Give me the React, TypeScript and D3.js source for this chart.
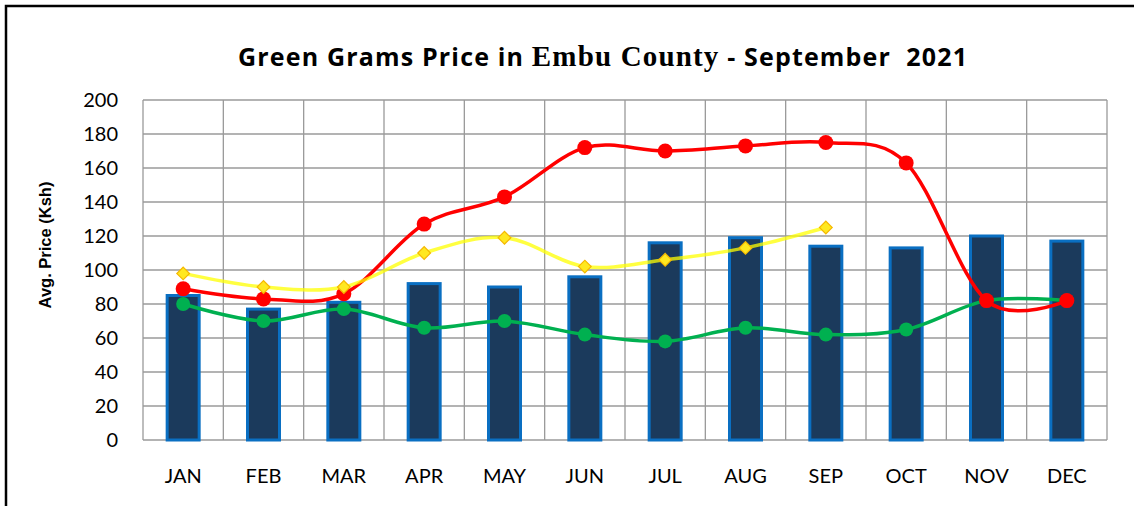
import * as d3 from "d3";
import { useRef, useEffect } from "react";

const months = ["JAN", "FEB", "MAR", "APR", "MAY", "JUN", "JUL", "AUG", "SEP", "OCT", "NOV", "DEC"];
const barValues = [85, 77, 81, 92, 90, 96, 116, 119, 114, 113, 120, 117];
const redValues = [89, 83, 86, 127, 143, 172, 170, 173, 175, 163, 82, 82];
const yellowValues = [98, 90, 90, 110, 119, 102, 106, 113, 125];
const greenValues = [80, 70, 77, 66, 70, 62, 58, 66, 62, 65, 82, 82];
const yTicks = [0, 20, 40, 60, 80, 100, 120, 140, 160, 180, 200];

export default function App() {
    const ref = useRef<SVGSVGElement>(null);

    const width = 1134;
    const height = 506;
    const marginLeft = 143;
    const marginRight = 27;
    const marginTop = 100;
    const plotBottom = 440;
    const sans = "Lato, 'Open Sans', sans-serif";

    useEffect(() => {
        document.body.style.margin = "0";
        const svg = d3.select(ref.current);
        svg.selectAll("*").remove();

        const x = d3.scaleBand()
            .domain(months)
            .range([marginLeft, width - marginRight]);

        const y = d3.scaleLinear()
            .domain([0, 200])
            .range([plotBottom, marginTop]);

        // frame
        svg.append("path")
            .attr("d", `M6,${height} V6 H${width}`)
            .attr("fill", "none")
            .attr("stroke", "#000")
            .attr("stroke-width", 2.5);

        // title
        const title = svg.append("text")
            .attr("x", 238)
            .attr("y", 66)
            .attr("textLength", 729)
            .attr("lengthAdjust", "spacing")
            .attr("font-size", 25)
            .attr("font-weight", "bold")
            .attr("font-family", "'Open Sans', Lato, sans-serif")
            .style("white-space", "pre");
        title.append("tspan").text("Green Grams Price in ");
        title.append("tspan")
            .attr("font-family", "'Liberation Serif', serif")
            .attr("font-size", 29)
            .text("Embu County");
        title.append("tspan").text(" - September  2021");

        // grid
        const grid = svg.append("g").attr("stroke", "#9a9a9a").attr("stroke-width", 1.3);
        grid.selectAll(".h")
            .data(yTicks)
            .join("line")
                .attr("x1", marginLeft)
                .attr("x2", width - marginRight)
                .attr("y1", d => y(d))
                .attr("y2", d => y(d));
        grid.selectAll(".v")
            .data(months.concat(["end"]))
            .join("line")
                .attr("x1", (d, i) => marginLeft + i * x.step())
                .attr("x2", (d, i) => marginLeft + i * x.step())
                .attr("y1", marginTop)
                .attr("y2", plotBottom);

        // y tick labels
        svg.append("g")
            .attr("font-family", sans)
            .attr("font-size", 20)
            .attr("text-anchor", "end")
            .selectAll("text")
            .data(yTicks)
            .join("text")
                .attr("x", 118)
                .attr("y", d => y(d) + 7)
                .text(d => d);

        // x labels
        svg.append("g")
            .attr("font-family", sans)
            .attr("font-size", 20)
            .attr("text-anchor", "middle")
            .selectAll("text")
            .data(months)
            .join("text")
                .attr("x", d => x(d)! + x.bandwidth() / 2)
                .attr("y", 483)
                .text(d => d);

        // y axis title
        svg.append("text")
            .attr("transform", "translate(51,245) rotate(-90)")
            .attr("text-anchor", "middle")
            .attr("font-family", "'Liberation Sans', Arial, sans-serif")
            .attr("font-size", 16.5)
            .attr("font-weight", "bold")
            .text("Avg. Price (Ksh)");

        // bars
        const barW = 32;
        svg.append("g")
            .selectAll("rect")
            .data(barValues)
            .join("rect")
                .attr("x", (d, i) => x(months[i])! + x.bandwidth() / 2 - barW / 2)
                .attr("y", d => y(d))
                .attr("width", barW)
                .attr("height", d => plotBottom - y(d))
                .attr("fill", "#1b3a5c")
                .attr("stroke", "#0a6fc2")
                .attr("stroke-width", 3);

        const cx = (i: number) => x(months[i])! + x.bandwidth() / 2;
        const line = d3.line<number>()
            .x((d, i) => cx(i))
            .y(d => y(d))
            .curve(d3.curveCardinal.tension(0));

        // green
        svg.append("path")
            .attr("d", line(greenValues))
            .attr("fill", "none")
            .attr("stroke", "#00b050")
            .attr("stroke-width", 3.5);
        svg.append("g")
            .selectAll("circle")
            .data(greenValues)
            .join("circle")
                .attr("cx", (d, i) => cx(i))
                .attr("cy", d => y(d))
                .attr("r", 7)
                .attr("fill", "#00b050");

        // red
        svg.append("path")
            .attr("d", line(redValues))
            .attr("fill", "none")
            .attr("stroke", "#ff0000")
            .attr("stroke-width", 3.5);
        svg.append("g")
            .selectAll("circle")
            .data(redValues)
            .join("circle")
                .attr("cx", (d, i) => cx(i))
                .attr("cy", d => y(d))
                .attr("r", 7.5)
                .attr("fill", "#ff0000");

        // yellow
        svg.append("path")
            .attr("d", line(yellowValues))
            .attr("fill", "none")
            .attr("stroke", "#ffff00")
            .attr("stroke-opacity", 0.75)
            .attr("stroke-width", 3.5);
        svg.append("g")
            .selectAll("path")
            .data(yellowValues)
            .join("path")
                .attr("transform", (d, i) => `translate(${cx(i)},${y(d)}) rotate(45)`)
                .attr("d", "M-4.5,-4.5H4.5V4.5H-4.5Z")
                .attr("fill", "#ffe820")
                .attr("stroke", "#f5b800")
                .attr("stroke-width", 1.2);
    }, []);

    return (
        <svg ref={ref} width={width} height={height} style={{ display: "block", background: "#fff" }}></svg>
    );
}
